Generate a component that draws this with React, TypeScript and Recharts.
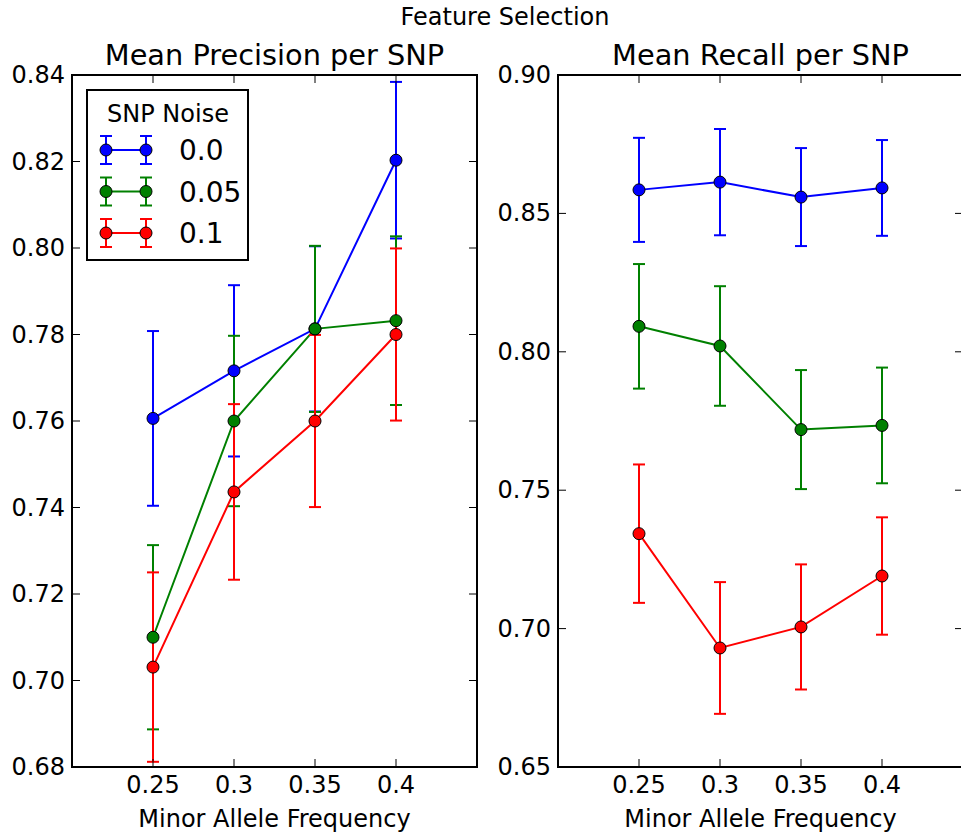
import React from "react"
import { LineChart, Line, XAxis, YAxis, ErrorBar, Legend, ReferenceArea } from "recharts"

// minor allele frequency on the x axis
const maf = [0.25, 0.3, 0.35, 0.4]
const xDomain = [0.2, 0.45]

// SNP noise series
const noiseNames = ["0.0", "0.05", "0.1"]
const noiseColors = ["#0000ff", "#008000", "#ff0000"]

// mean precision per SNP
const precisionNoise00 = [0.7606, 0.7716, 0.7813, 0.8203]
const precisionNoise05 = [0.71, 0.76, 0.7813, 0.7832]
const precisionNoise10 = [0.7031, 0.7436, 0.76, 0.78]
const precisionErr00 = [0.0202, 0.0198, 0.0191, 0.0181]
const precisionErr05 = [0.0213, 0.0197, 0.0192, 0.0195]
const precisionErr10 = [0.0219, 0.0203, 0.0199, 0.0199]

// mean recall per SNP
const recallNoise00 = [0.8585, 0.8613, 0.8559, 0.8592]
const recallNoise05 = [0.8092, 0.8021, 0.7719, 0.7734]
const recallNoise10 = [0.7343, 0.693, 0.7006, 0.719]
const recallErr00 = [0.0188, 0.0192, 0.0177, 0.0173]
const recallErr05 = [0.0225, 0.0216, 0.0215, 0.0209]
const recallErr10 = [0.0250, 0.0238, 0.0226, 0.0212]

const precisionTicks = [0.68, 0.7, 0.72, 0.74, 0.76, 0.78, 0.8, 0.82, 0.84]
const recallTicks = [0.65, 0.7, 0.75, 0.8, 0.85, 0.9]

const FONT = "'DejaVu Sans', sans-serif"
const H = 835
const PLOT_TOP = 75
const PLOT_BOTTOM = 767
const PLOT_W = 405
const PLOT_H = PLOT_BOTTOM - PLOT_TOP
const Y_AXIS_W = 60
const X_AXIS_H = 30

function buildRows(values: number[][], errs: number[][]) {
  return maf.map((m, i) => ({
    maf: m,
    v0: values[0][i],
    v1: values[1][i],
    v2: values[2][i],
    e0: errs[0][i],
    e1: errs[1][i],
    e2: errs[2][i],
  }))
}

const precisionData = buildRows(
  [precisionNoise00, precisionNoise05, precisionNoise10],
  [precisionErr00, precisionErr05, precisionErr10]
)
const recallData = buildRows(
  [recallNoise00, recallNoise05, recallNoise10],
  [recallErr00, recallErr05, recallErr10]
)

const YTick = (props: any) => {
  const { x, y, payload } = props
  const ax = x + 7
  return (
    <g>
      <line x1={ax} x2={ax + 8} y1={y} y2={y} stroke="#000" strokeWidth={1} />
      <line x1={ax + PLOT_W} x2={ax + PLOT_W - 8} y1={y} y2={y} stroke="#000" strokeWidth={1} />
      <text x={x} y={y + 8} textAnchor="end" fontSize={24} fill="#000" fontFamily={FONT}>
        {Number(payload.value).toFixed(2)}
      </text>
    </g>
  )
}

const XTick = (props: any) => {
  const { x, y, payload } = props
  return (
    <g>
      <line x1={x} x2={x} y1={y} y2={y - 8} stroke="#000" strokeWidth={1} />
      <line x1={x} x2={x} y1={y - PLOT_H} y2={y - PLOT_H + 8} stroke="#000" strokeWidth={1} />
      <text x={x} y={y + 26} textAnchor="middle" fontSize={24} fill="#000" fontFamily={FONT}>
        {String(payload.value)}
      </text>
    </g>
  )
}

const renderLegend = (props: any) => {
  const items = (props.payload || []) as any[]
  return (
    <div
      style={{
        width: 163,
        height: 172,
        border: "2px solid #000",
        background: "#fff",
        boxSizing: "border-box",
      }}
    >
      <svg width={159} height={168} style={{ display: "block" }}>
        <text x={80} y={31} textAnchor="middle" fontSize={24} fontFamily={FONT} fill="#000">
          SNP Noise
        </text>
        {items.map((item, i) => {
          const cy = 59 + i * 41.5
          const c = item.color
          return (
            <g key={i}>
              <line x1={18} x2={58} y1={cy} y2={cy} stroke={c} strokeWidth={2} />
              {[18, 58].map((cx) => (
                <g key={cx}>
                  <line x1={cx} x2={cx} y1={cy - 14} y2={cy + 14} stroke={c} strokeWidth={2} />
                  <line x1={cx - 6} x2={cx + 6} y1={cy - 14} y2={cy - 14} stroke={c} strokeWidth={2} />
                  <line x1={cx - 6} x2={cx + 6} y1={cy + 14} y2={cy + 14} stroke={c} strokeWidth={2} />
                  <circle cx={cx} cy={cy} r={6} fill={c} stroke="#000" strokeWidth={1} />
                </g>
              ))}
              <text x={91} y={cy + 10} fontSize={28} fontFamily={FONT} fill="#000">
                {item.value}
              </text>
            </g>
          )
        })}
      </svg>
    </div>
  )
}

function Panel({
  data,
  yDomain,
  yTicks,
  width,
  plotLeft,
  showLegend,
}: {
  data: any[]
  yDomain: number[]
  yTicks: number[]
  width: number
  plotLeft: number
  showLegend: boolean
}) {
  return (
    <LineChart
      width={width}
      height={H}
      data={data}
      margin={{
        top: PLOT_TOP,
        left: plotLeft - Y_AXIS_W,
        right: width - plotLeft - PLOT_W,
        bottom: H - PLOT_BOTTOM - X_AXIS_H,
      }}
    >
      <XAxis
        dataKey="maf"
        type="number"
        domain={xDomain}
        ticks={maf}
        axisLine={false}
        tickLine={false}
        tickSize={0}
        tickMargin={0}
        height={X_AXIS_H}
        tick={<XTick />}
        interval={0}
      />
      <YAxis
        type="number"
        domain={yDomain}
        ticks={yTicks}
        axisLine={false}
        tickLine={false}
        tickSize={0}
        tickMargin={7}
        width={Y_AXIS_W}
        tick={<YTick />}
        interval={0}
      />
      <ReferenceArea
        x1={xDomain[0]}
        x2={xDomain[1]}
        y1={yDomain[0]}
        y2={yDomain[1]}
        fill="none"
        stroke="#000"
        strokeWidth={2}
        fillOpacity={0}
      />
      {noiseNames.map((name, i) => (
        <Line
          key={name}
          name={name}
          dataKey={`v${i}`}
          type="linear"
          stroke={noiseColors[i]}
          strokeWidth={2}
          dot={{ r: 6, fill: noiseColors[i], stroke: "#000", strokeWidth: 1 }}
          isAnimationActive={false}
        >
          <ErrorBar
            dataKey={`e${i}`}
            direction="y"
            width={6}
            stroke={noiseColors[i]}
            strokeWidth={2}
            isAnimationActive={false}
          />
        </Line>
      ))}
      {showLegend && (
        <Legend
          layout="vertical"
          align="center"
          verticalAlign="middle"
          content={renderLegend}
          wrapperStyle={{ left: 86, top: 89, width: 163, height: 172 }}
        />
      )}
    </LineChart>
  )
}

export default function App() {
  return (
    <div
      style={{
        position: "absolute",
        left: 0,
        top: 0,
        width: 961,
        height: H,
        overflow: "hidden",
        background: "#fff",
        fontFamily: FONT,
      }}
    >
      <div style={{ position: "absolute", left: 0, top: 0 }}>
        <Panel
          data={precisionData}
          yDomain={[0.68, 0.84]}
          yTicks={precisionTicks}
          width={480}
          plotLeft={72}
          showLegend={true}
        />
      </div>
      <div style={{ position: "absolute", left: 480, top: 0 }}>
        <Panel
          data={recallData}
          yDomain={[0.65, 0.9]}
          yTicks={recallTicks}
          width={490}
          plotLeft={78}
          showLegend={false}
        />
      </div>
      <svg
        width={961}
        height={H}
        style={{ position: "absolute", left: 0, top: 0, pointerEvents: "none" }}
        fontFamily={FONT}
        fill="#000"
      >
        <text x={505} y={25} textAnchor="middle" fontSize={24}>
          Feature Selection
        </text>
        <text x={274.5} y={65} textAnchor="middle" fontSize={28.8}>
          Mean Precision per SNP
        </text>
        <text x={760.5} y={65} textAnchor="middle" fontSize={28.8}>
          Mean Recall per SNP
        </text>
        <text x={274.5} y={827} textAnchor="middle" fontSize={24}>
          Minor Allele Frequency
        </text>
        <text x={760.5} y={827} textAnchor="middle" fontSize={24}>
          Minor Allele Frequency
        </text>
      </svg>
    </div>
  )
}
